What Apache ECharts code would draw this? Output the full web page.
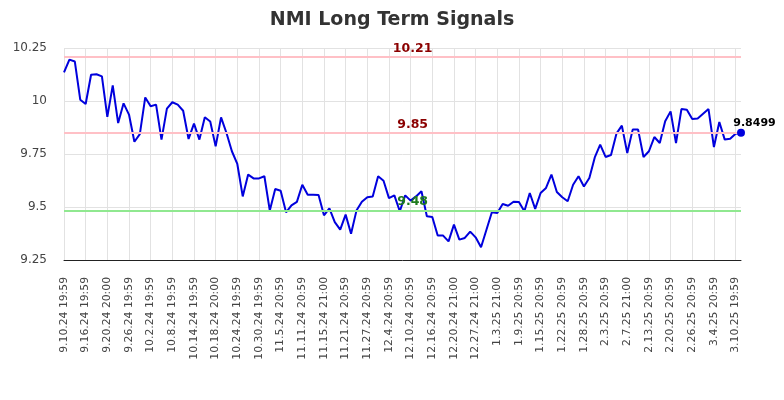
<!DOCTYPE html>
<html>
<head>
<meta charset="utf-8">
<script src="https://cdn.jsdelivr.net/npm/echarts@6/dist/echarts.min.js"></script>
<style>html,body{margin:0;padding:0;background:#fff}#c{width:784px;height:400px}</style>
</head>
<body>
<div id="c"></div>
<script>
const dates = [
 '9.10.24 19:59','9.11.24 19:59','9.12.24 19:59','9.13.24 20:00','9.16.24 19:59','9.17.24 19:59','9.18.24 19:59','9.19.24 19:59','9.20.24 20:00','9.23.24 19:59','9.24.24 19:59','9.25.24 19:59','9.26.24 19:59','9.27.24 20:00','9.30.24 19:59',
 '10.1.24 19:59','10.2.24 19:59','10.3.24 19:59','10.4.24 20:00','10.7.24 19:59','10.8.24 19:59','10.9.24 19:59','10.10.24 19:59','10.11.24 20:00','10.14.24 19:59','10.15.24 19:59','10.16.24 19:59','10.17.24 19:59','10.18.24 20:00','10.21.24 19:59','10.22.24 19:59','10.23.24 19:59','10.24.24 19:59','10.25.24 20:00','10.28.24 19:59','10.29.24 19:59','10.30.24 19:59','10.31.24 19:59',
 '11.1.24 20:00','11.4.24 20:59','11.5.24 20:59','11.6.24 20:59','11.7.24 20:59','11.8.24 21:00','11.11.24 20:59','11.12.24 20:59','11.13.24 20:59','11.14.24 20:59','11.15.24 21:00','11.18.24 20:59','11.19.24 20:59','11.20.24 20:59','11.21.24 20:59','11.22.24 21:00','11.25.24 20:59','11.26.24 20:59','11.27.24 20:59','11.29.24 21:00',
 '12.2.24 20:59','12.3.24 20:59','12.4.24 20:59','12.5.24 20:59','12.6.24 21:00','12.9.24 20:59','12.10.24 20:59','12.11.24 20:59','12.12.24 20:59','12.13.24 21:00','12.16.24 20:59','12.17.24 20:59','12.18.24 20:59','12.19.24 20:59','12.20.24 21:00','12.23.24 20:59','12.24.24 20:59','12.26.24 20:59','12.27.24 21:00','12.30.24 20:59','12.31.24 20:59',
 '1.2.25 20:59','1.3.25 21:00','1.6.25 20:59','1.7.25 20:59','1.8.25 20:59','1.9.25 20:59','1.10.25 21:00','1.13.25 20:59','1.14.25 20:59','1.15.25 20:59','1.16.25 20:59','1.17.25 21:00','1.21.25 20:59','1.22.25 20:59','1.23.25 20:59','1.24.25 21:00','1.27.25 20:59','1.28.25 20:59','1.29.25 20:59','1.30.25 20:59','1.31.25 21:00',
 '2.3.25 20:59','2.4.25 20:59','2.5.25 20:59','2.6.25 20:59','2.7.25 21:00','2.10.25 20:59','2.11.25 20:59','2.12.25 20:59','2.13.25 20:59','2.14.25 21:00','2.18.25 20:59','2.19.25 20:59','2.20.25 20:59','2.21.25 21:00','2.24.25 20:59','2.25.25 20:59','2.26.25 20:59','2.27.25 20:59','2.28.25 21:00',
 '3.3.25 20:59','3.4.25 20:59','3.5.25 20:59','3.6.25 20:59','3.7.25 21:00','3.10.25 19:59','3.11.25 19:59'
];
const prices = [
 10.135,10.195,10.186,10.006,9.986,10.124,10.126,10.116,9.925,10.074,9.896,9.989,9.936,9.808,9.844,
 10.017,9.975,9.983,9.818,9.964,9.994,9.983,9.954,9.821,9.893,9.818,9.923,9.903,9.786,9.923,
 9.849,9.763,9.703,9.550,9.653,9.635,9.635,9.645,9.483,9.585,9.577,9.475,9.508,9.524,9.605,
 9.558,9.558,9.557,9.461,9.494,9.429,9.393,9.464,9.374,9.483,9.525,9.546,9.550,9.645,9.624,
 9.542,9.555,9.480,9.555,9.530,9.550,9.574,9.456,9.453,9.366,9.365,9.338,9.417,9.346,9.354,
 9.384,9.357,9.310,9.393,9.475,9.472,9.514,9.506,9.525,9.524,9.480,9.566,9.491,9.566,9.590,
 9.653,9.571,9.546,9.527,9.605,9.645,9.597,9.637,9.734,9.794,9.736,9.745,9.846,9.884,9.755,
 9.865,9.865,9.736,9.763,9.830,9.802,9.904,9.951,9.802,9.962,9.959,9.915,9.918,9.940,9.962,
 9.783,9.901,9.818,9.822,9.846,9.8499
];
const levelHigh = 10.21;
const levelMid = 9.85;
const levelLow = 9.48;
const lastLabel = '9.8499';
const yTicks = { min: 9.25, max: 10.25, step: 0.25 };

const FONT = 'DejaVu Sans';
const chart = echarts.init(document.getElementById('c'), null, { renderer: 'canvas' });
const labelIdx = 64;
function levelPoint(v, color, dy) {
  return {
    coord: [dates[labelIdx], v], symbol: 'circle', symbolSize: 0,
    label: { show: true, formatter: String(v.toFixed(2)), color: color, fontWeight: 'bold',
      fontSize: 12.5, fontFamily: FONT, position: 'inside', offset: [2, dy] }
  };
}
chart.setOption({
  animation: false,
  backgroundColor: '#fff',
  title: {
    text: 'NMI Long Term Signals', left: 'center', top: 6,
    textStyle: { fontFamily: FONT, fontWeight: 'bold', fontSize: 19, color: '#333' }
  },
  grid: { left: 64, right: 43, top: 48, bottom: 140, containLabel: false },
  xAxis: {
    type: 'category', data: dates, boundaryGap: false,
    axisLine: { lineStyle: { color: '#222', width: 1 } },
    axisTick: { show: false },
    axisLabel: { interval: 3, rotate: 90, fontFamily: FONT, fontSize: 10.8, color: '#444', margin: 17 },
    splitLine: { show: true, interval: 3, lineStyle: { color: '#e2e2e2', width: 1 } }
  },
  yAxis: {
    type: 'value', min: yTicks.min, max: yTicks.max, interval: yTicks.step,
    axisLine: { show: false }, axisTick: { show: false },
    axisLabel: { fontFamily: FONT, fontSize: 12, color: '#444', margin: 17 },
    splitLine: { lineStyle: { color: '#e2e2e2', width: 1 } }
  },
  series: [{
    type: 'line', data: prices, showSymbol: false, symbol: 'none',
    lineStyle: { color: '#0000dd', width: 2 },
    itemStyle: { color: '#0000dd' },
    markLine: {
      silent: true, symbol: ['none', 'none'], label: { show: false },
      data: [
        { yAxis: levelHigh, lineStyle: { color: '#ffc0c6', width: 2, type: 'solid' } },
        { yAxis: levelMid, lineStyle: { color: '#ffc0c6', width: 2, type: 'solid' } },
        { yAxis: levelLow, lineStyle: { color: '#90e890', width: 2, type: 'solid' } }
      ]
    },
    markPoint: {
      silent: true,
      data: [
        levelPoint(levelHigh, '#8b0000', -8),
        levelPoint(levelMid, '#8b0000', -8),
        levelPoint(levelLow, '#1e7b1e', -9),
        {
          coord: [dates[dates.length - 1], prices[prices.length - 1]], symbol: 'circle', symbolSize: 8,
          itemStyle: { color: '#0000dd' },
          label: { show: true, formatter: lastLabel, color: '#000', fontWeight: 'bold', fontSize: 11,
            fontFamily: FONT, position: 'inside', offset: [13.5, -10] }
        }
      ]
    }
  }]
});
</script>
</body>
</html>
